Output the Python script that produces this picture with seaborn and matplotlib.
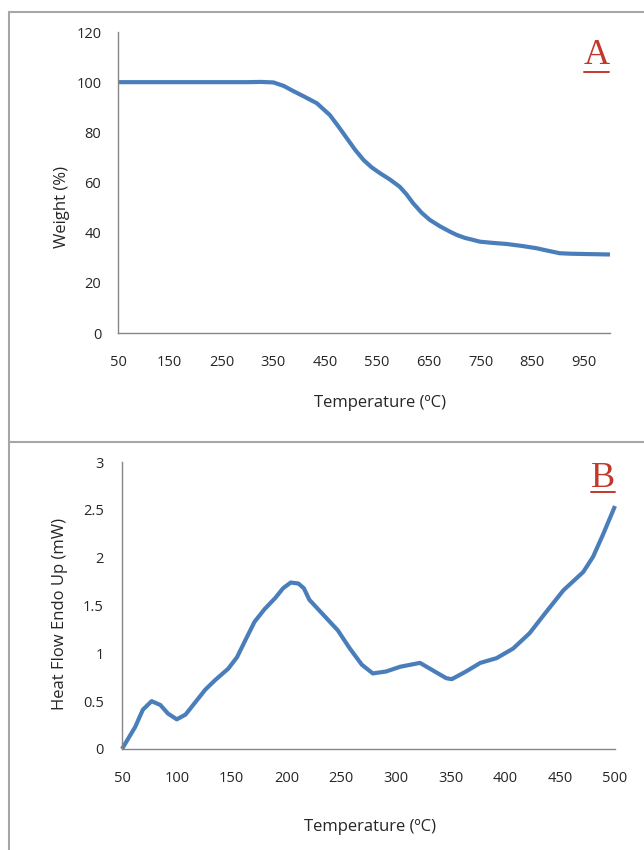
import matplotlib
matplotlib.use("Agg")
import matplotlib.pyplot as plt
import seaborn as sns
import pandas as pd
from matplotlib.lines import Line2D

# ---- Data: Panel A (TGA) ----
temp_a = [50, 100, 150, 200, 250, 300, 325, 350, 370, 388, 410, 434, 459, 475,
          492, 508, 524, 540, 556, 575, 594, 607, 620, 636, 652, 672, 691, 704,
          720, 736, 749, 775, 800, 830, 858, 880, 903, 925, 948, 975, 1000]
weight_a = [100, 100, 100, 100, 100, 100, 100.1, 99.9, 98.5, 96.5, 94.2, 91.6,
            86.9, 82.5, 77.6, 73, 69, 66, 63.7, 61.2, 58.3, 55.3, 51.7, 48,
            45.1, 42.5, 40.4, 39.1, 37.9, 37.1, 36.4, 35.9, 35.5, 34.7, 33.8,
            32.8, 31.8, 31.6, 31.5, 31.4, 31.3]
xticks_a = [50, 150, 250, 350, 450, 550, 650, 750, 850, 950]
yticks_a = [0, 20, 40, 60, 80, 100, 120]

# ---- Data: Panel B (DSC) ----
temp_b = [50, 62, 69, 77, 85, 92, 100, 108, 117, 126, 135, 147, 155, 164, 171,
          180, 190, 197, 204, 211, 216, 221, 234, 247, 258, 269, 279, 291, 304,
          322, 334, 346, 351, 364, 377, 392, 407, 422, 437, 453, 471, 480, 489,
          500]
heat_b = [0.0, 0.23, 0.41, 0.50, 0.46, 0.37, 0.31, 0.36, 0.49, 0.62, 0.72, 0.84,
          0.96, 1.17, 1.33, 1.46, 1.58, 1.68, 1.74, 1.73, 1.68, 1.56, 1.40,
          1.24, 1.05, 0.88, 0.79, 0.81, 0.86, 0.90, 0.82, 0.74, 0.73, 0.81,
          0.90, 0.95, 1.05, 1.21, 1.43, 1.66, 1.85, 2.01, 2.24, 2.54]
xticks_b = [50, 100, 150, 200, 250, 300, 350, 400, 450, 500]
yticks_b = [0, 0.5, 1, 1.5, 2, 2.5, 3]
ytick_labels_b = ["0", "0.5", "1", "1.5", "2", "2.5", "3"]

sns.set_style("white")
plt.rcParams['font.family'] = ['Open Sans', 'DejaVu Sans']

W, H = 644, 850
fig = plt.figure(figsize=(W / 100, H / 100), dpi=100)

LINE_COLOR = "#4A7EBB"
SPINE = "#868686"
TXT = "#262626"
RED = "#C0392B"


def fx(px):
    return px / W


def fy(py):
    return 1 - py / H


# panel borders
border = dict(color="#A6A6A6", lw=1.5, transform=fig.transFigure)
fig.add_artist(Line2D([fx(9), fx(9)], [fy(12), fy(850)], **border))
fig.add_artist(Line2D([fx(9), fx(644)], [fy(12), fy(12)], **border))
fig.add_artist(Line2D([fx(9), fx(644)], [fy(442), fy(442)], **border))


def style_ax(ax, xpad, ypad):
    for s in ["top", "right"]:
        ax.spines[s].set_visible(False)
    for s in ["left", "bottom"]:
        ax.spines[s].set_color(SPINE)
        ax.spines[s].set_linewidth(1.0)
    ax.tick_params(axis="both", direction="out", length=4, width=1.0,
                   color=SPINE, labelsize=10.5, labelcolor=TXT)
    ax.tick_params(axis="x", pad=xpad)
    ax.tick_params(axis="y", pad=ypad)
    ax.grid(False)


def place_labels(ax, xl, yl):
    ax.xaxis.set_label_coords(*xl)
    ax.xaxis.label.set_verticalalignment("center")
    ax.yaxis.set_label_coords(*yl)
    ax.yaxis.label.set_verticalalignment("center")


# ---- Panel A ----
axA = fig.add_axes([fx(118), fy(333), fx(610) - fx(118), fy(32) - fy(333)])
dfA = pd.DataFrame({"Temperature": temp_a, "Weight": weight_a})
sns.lineplot(data=dfA, x="Temperature", y="Weight", ax=axA, color=LINE_COLOR,
             lw=3.0, solid_joinstyle="round", solid_capstyle="butt", clip_on=False)
axA.set_xlim(50, 1000)
axA.set_ylim(0, 120)
axA.set_xticks(xticks_a)
axA.set_yticks(yticks_a)
style_ax(axA, xpad=12, ypad=8)
axA.set_xlabel("Temperature (ºC)", fontsize=12, color=TXT)
axA.set_ylabel("Weight (%)", fontsize=12, color=TXT)
place_labels(axA, (0.533, -0.233), (-0.114, 0.419))
axA.text(0.972, 0.922, "A", transform=axA.transAxes, ha="center", va="center",
         fontsize=26, color=RED, family="Liberation Serif")
axA.add_line(Line2D([0.947, 0.998], [0.867, 0.867], transform=axA.transAxes,
                    color=RED, lw=1.4, clip_on=False))

# ---- Panel B ----
axB = fig.add_axes([fx(122), fy(749), fx(615) - fx(122), fy(462) - fy(749)])
dfB = pd.DataFrame({"Temperature": temp_b, "HeatFlow": heat_b})
sns.lineplot(data=dfB, x="Temperature", y="HeatFlow", ax=axB, color=LINE_COLOR,
             lw=3.0, solid_joinstyle="round", solid_capstyle="butt", clip_on=False)
axB.set_xlim(50, 500)
axB.set_ylim(0, 3)
axB.set_xticks(xticks_b)
axB.set_yticks(yticks_b)
axB.set_yticklabels(ytick_labels_b)
style_ax(axB, xpad=12, ypad=9)
axB.set_xlabel("Temperature (ºC)", fontsize=12, color=TXT)
axB.set_ylabel("Heat Flow Endo Up (mW)", fontsize=12, color=TXT)
place_labels(axB, (0.503, -0.272), (-0.126, 0.47))
axB.text(0.976, 0.944, "B", transform=axB.transAxes, ha="center", va="center",
         fontsize=26, color=RED, family="Liberation Serif")
axB.add_line(Line2D([0.951, 1.0], [0.895, 0.895], transform=axB.transAxes,
                    color=RED, lw=1.4, clip_on=False))

fig.savefig("out.png", dpi=100)
